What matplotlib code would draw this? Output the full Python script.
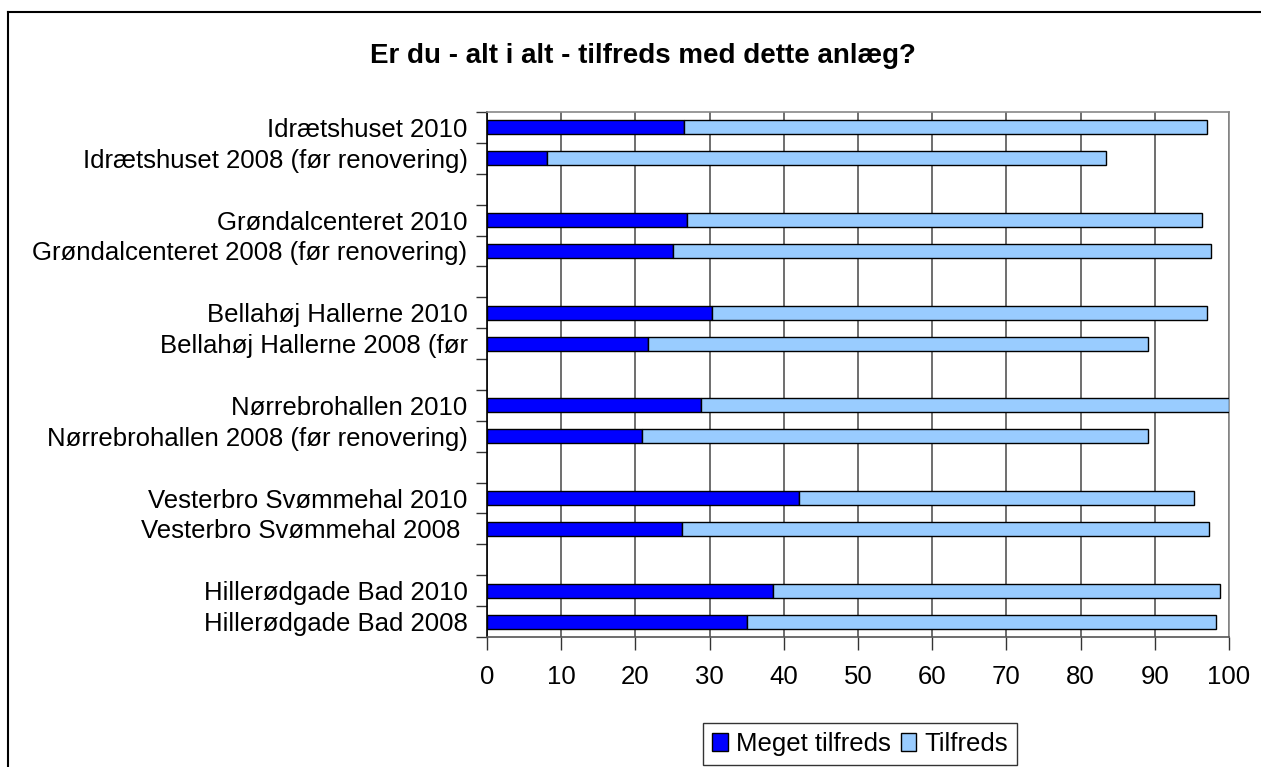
import numpy as np
import matplotlib
matplotlib.use("Agg")
import matplotlib.pyplot as plt
from matplotlib.lines import Line2D
from matplotlib.patches import Patch

plt.rcParams["font.family"] = ["Liberation Sans", "DejaVu Sans"]

# ── data (top to bottom, "" = empty spacer row) ──────────────────────────────
labels = [
    "Idrætshuset 2010", "Idrætshuset 2008 (før renovering)", "",
    "Grøndalcenteret 2010", "Grøndalcenteret 2008 (før renovering)", "",
    "Bellahøj Hallerne 2010", "Bellahøj Hallerne 2008 (før", "",
    "Nørrebrohallen 2010", "Nørrebrohallen 2008 (før renovering)", "",
    "Vesterbro Svømmehal 2010", "Vesterbro Svømmehal 2008 ", "",
    "Hillerødgade Bad 2010", "Hillerødgade Bad 2008",
]
meget = [26.5, 8.1, 0, 27.0, 25.0, 0, 30.3, 21.7, 0,
         28.9, 20.9, 0, 42.1, 26.3, 0, 38.5, 35.1]
total = [97.1, 83.4, 0, 96.4, 97.6, 0, 97.1, 89.1, 0,
         100.0, 89.1, 0, 95.3, 97.3, 0, 98.8, 98.2]
tilfreds = [t - m for t, m in zip(total, meget)]

series_names = ["Meget tilfreds", "Tilfreds"]
colors = ["#0000FF", "#99CCFF"]

# ── figure ───────────────────────────────────────────────────────────────────
fig = plt.figure(figsize=(12.61, 7.67), dpi=100)
ax = fig.add_axes([487 / 1261, 130 / 767, 742 / 1261, 525 / 767])

y = np.arange(len(labels)) + 0.5
mask = np.array([lab != "" for lab in labels])
h = 0.45
ax.barh(y[mask], np.array(meget)[mask], height=h, color=colors[0],
        edgecolor="black", linewidth=1.0, zorder=3)
ax.barh(y[mask], np.array(tilfreds)[mask], left=np.array(meget)[mask],
        height=h, color=colors[1], edgecolor="black", linewidth=1.0, zorder=3)

ax.set_xlim(0, 100)
ax.set_ylim(len(labels), 0)
ax.set_xticks(np.arange(0, 101, 10))
ax.tick_params(axis="x", direction="out", length=9, width=1, pad=11,
               labelsize=18.5, color="#333333")
ax.xaxis.grid(True, color="#555555", linewidth=1.2, zorder=0)

ax.set_yticks(np.arange(0, len(labels) + 1))
ax.set_yticklabels([])
ax.set_yticks(y, minor=True)
ax.set_yticklabels(labels, minor=True)
ax.tick_params(axis="y", which="major", direction="out", length=8, width=1,
               color="#333333")
ax.tick_params(axis="y", which="minor", length=0, pad=14, labelsize=18.5)

ax.spines["left"].set_color("black")
ax.spines["bottom"].set_color("#555555")
ax.spines["top"].set_color("#888888")
ax.spines["right"].set_color("#888888")
for s in ax.spines.values():
    s.set_linewidth(1.2)

fig.text(643 / 1261, 1 - 56 / 767, "Er du - alt i alt - tilfreds med dette anlæg?",
         ha="center", va="center", fontsize=20, fontweight="bold")

handles = [Patch(facecolor=c, edgecolor="black", linewidth=1.0) for c in colors]
leg = fig.legend(handles, series_names, loc="center",
                 bbox_to_anchor=(860 / 1261, 1 - 744 / 767), ncol=2,
                 fontsize=18.5, frameon=True, fancybox=False,
                 handlelength=0.6, handleheight=0.7, handletextpad=0.3,
                 columnspacing=0.4, borderpad=0.35, borderaxespad=0)
leg.get_frame().set_edgecolor("black")
leg.get_frame().set_linewidth(1.0)

# outer frame (left and top edges visible)
fig.add_artist(Line2D([8 / 1261, 8 / 1261], [0, 1 - 12 / 767],
                      transform=fig.transFigure, color="black", linewidth=1.5))
fig.add_artist(Line2D([8 / 1261, 1], [1 - 12 / 767, 1 - 12 / 767],
                      transform=fig.transFigure, color="black", linewidth=1.5))

fig.savefig("out.png", dpi=100)
